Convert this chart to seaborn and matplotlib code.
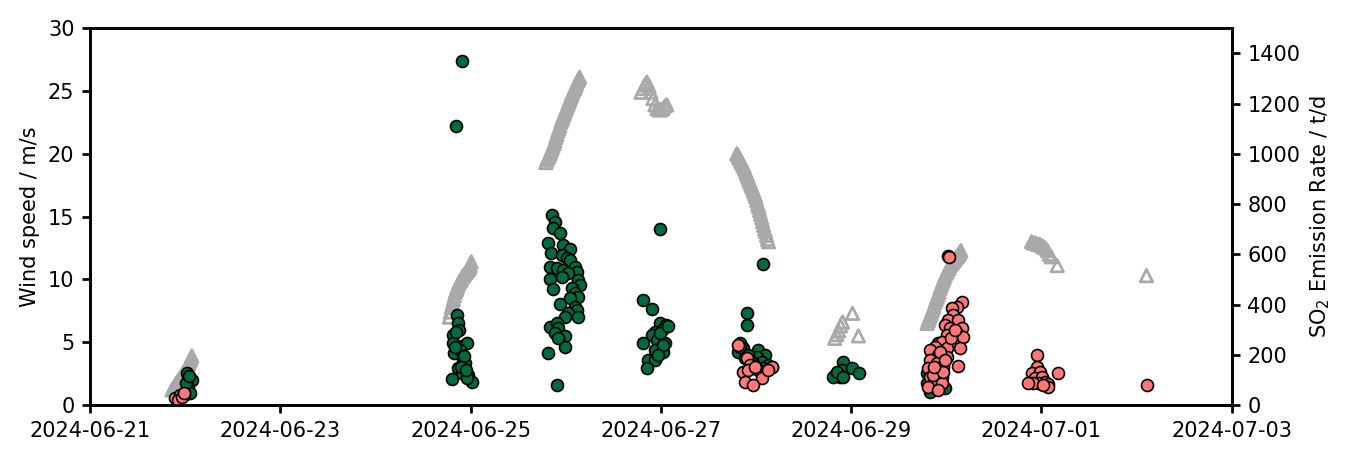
import numpy as np
import pandas as pd
import matplotlib
matplotlib.use("Agg")
import matplotlib.pyplot as plt
import matplotlib.dates as mdates
import seaborn as sns

# ------------------------------------------------------------------
# DATA
# ------------------------------------------------------------------

T0 = pd.Timestamp("2024-06-21")
T_END = pd.Timestamp("2024-07-03")

# wind speed (m/s): one run per evening, regular sampling
wind_start = ["2024-06-21 20:40", "2024-06-24 18:40", "2024-06-25 19:00",
              "2024-06-26 19:00", "2024-06-27 19:10", "2024-06-28 19:50",
              "2024-06-29 19:10", "2024-06-30 21:30", "2024-07-02 02:30"]
wind_step_min = [15, 15, 15, 30, 15, 30, 15, 30, 30]

wind_1 = [1.2, 1.3, 1.4, 1.5, 1.7, 1.8, 1.9, 2.0, 2.1, 2.2, 2.3, 2.5, 2.6,
          2.7, 2.9, 3.0, 3.2, 3.3, 3.5, 3.7, 3.9]
wind_2 = [7.0, 7.4, 7.8, 8.1, 8.4, 8.7, 9.0, 9.2, 9.4, 9.6, 9.8, 9.9, 10.0,
          10.2, 10.3, 10.4, 10.5, 10.6, 10.7, 10.8, 10.9, 11.1, 11.4]
wind_3 = [19.3, 19.5, 19.7, 19.8, 20.0, 20.2, 20.4, 20.6, 20.8, 21.0, 21.3,
          21.5, 21.8, 22.0, 22.2, 22.5, 22.7, 22.9, 23.1, 23.3, 23.5, 23.7,
          23.9, 24.1, 24.3, 24.5, 24.7, 24.9, 25.1, 25.2, 25.4, 25.6, 25.8,
          25.9, 26.1]
wind_4 = [24.9, 25.2, 25.5, 25.7, 25.4, 24.9, 24.4, 23.9, 23.6, 23.5, 23.5,
          23.6, 23.8, 23.9]
wind_5 = [20.0, 19.9, 19.7, 19.6, 19.4, 19.3, 19.1, 19.0, 18.8, 18.6, 18.4,
          18.2, 18.0, 17.8, 17.6, 17.4, 17.2, 17.0, 16.8, 16.6, 16.3, 16.0,
          15.8, 15.5, 15.2, 14.9, 14.6, 14.3, 14.0, 13.8, 13.5, 13.2, 13.0]
wind_6 = [5.3, 5.6, 5.9, 6.3, 6.6, np.nan, np.nan, np.nan, np.nan, 7.3,
          np.nan, np.nan, 5.5]
wind_7 = [6.5, 6.7, 6.9, 7.1, 7.3, 7.5, 7.7, 7.9, 8.2, 8.4, 8.6, 8.8, 9.0,
          9.3, 9.5, 9.7, 9.9, 10.1, 10.3, 10.5, 10.6, 10.8, 10.9, 11.1, 11.2,
          11.3, 11.4, 11.5, 11.6, 11.7, 11.8, 11.9, 12.0, 12.1, 12.3]
wind_8 = [13.0, 12.9, 12.9, 12.8, 12.8, 12.7, 12.6, 12.5, 12.3, 12.0, 11.8,
          np.nan, np.nan, 11.1]
wind_9 = [10.3]

# SO2 emission rate (t/d), days after 2024-06-21 00:00
green_day = [1.019, 1.072, 1.030, 1.051, 1.009, 0.988, 1.040,
             3.909, 3.846, 3.856, 3.867, 3.814, 3.877, 3.814, 3.909, 3.961,
             3.825, 3.919, 3.940, 3.867, 3.909, 3.972, 3.804, 4.014, 3.961,
             3.846, 3.888, 3.930, 3.898, 3.835, 3.950,
             4.854, 4.886, 4.865, 4.939, 4.812, 4.970, 5.044, 4.844, 4.960,
             5.012, 5.044, 4.834, 4.907, 4.970, 5.096, 5.117, 5.023, 4.834,
             4.960, 5.128, 5.149, 4.865, 5.065, 5.096, 5.128, 5.044, 4.939,
             5.096, 5.117, 5.023, 5.128, 4.991, 4.834, 4.907, 4.917, 4.886,
             4.991, 4.917, 4.991, 4.812, 4.907,
             5.989, 5.811, 5.905, 5.989, 6.052, 5.937, 6.010, 5.905, 5.811,
             5.958, 6.042, 5.937, 6.021, 5.863, 5.937, 5.853, 6.021, 5.989,
             6.073, 5.968,
             7.072, 6.903, 6.903, 6.830, 6.861, 6.809, 7.019, 7.093, 7.008,
             7.061, 6.966, 7.124, 6.882, 7.072, 7.019, 6.935, 7.166, 6.830,
             6.914,
             7.828, 7.881, 7.912, 7.902, 8.007, 8.080, 7.807, 7.849, 7.912,
             8.795, 8.795, 8.826, 8.910, 8.963, 8.879, 9.015, 8.984, 8.931,
             8.847]
green_so2 = [127, 100, 72, 48, 88, 40, 115,
             1370, 1111, 358, 327, 279, 300, 247, 235, 247,
             207, 179, 167, 147, 127, 119, 104, 92, 108,
             290, 220, 195, 150, 230, 140,
             757, 729, 705, 685, 645, 637, 621, 605, 597,
             586, 578, 550, 546, 538, 550, 530, 526, 502,
             510, 498, 478, 462, 466, 446, 430, 426, 402,
             390, 378, 366, 350, 350, 311, 327, 307, 287,
             275, 267, 231, 207, 80,
             701, 418, 382, 327, 319, 291, 299, 279, 247,
             259, 247, 219, 211, 179, 179, 147, 239, 287,
             315, 200,
             560, 366, 319, 247, 227, 211, 219, 199, 191,
             171, 167, 159, 187, 147, 139, 179, 151, 230,
             200,
             119, 112, 171, 139, 147, 127, 112, 131, 112,
             127, 88, 52, 247, 231, 171, 592, 68, 100,
             199]

red_day = [0.893, 0.946, 0.925, 0.967, 0.988,
           6.809, 6.903, 6.935, 6.861, 6.914, 6.987, 7.166, 7.061, 6.882,
           6.966, 7.124,
           9.026, 9.163, 9.110, 9.058, 9.068, 9.015, 9.121, 8.984, 9.163,
           9.036, 9.110, 9.005, 9.173, 9.142, 8.952, 9.005, 8.879, 8.826,
           8.910, 9.005, 9.121, 8.826, 8.900, 8.963, 8.805, 8.879, 8.952,
           8.826, 8.900, 8.847, 8.952, 8.858, 8.805, 8.910, 8.963, 9.047,
           9.089, 8.931, 8.984, 8.868,
           9.951, 9.951, 9.898, 9.982, 10.171, 9.877, 9.930, 10.003, 10.035,
           10.066, 9.961, 9.909, 10.066, 10.014, 9.856,
           11.107]
red_so2 = [28, 40, 20, 32, 48,
           239, 187, 159, 131, 139, 151, 151, 108, 92,
           80, 139,
           590, 410, 390, 386, 358, 339, 339, 319, 307,
           307, 287, 279, 271, 227, 251, 227, 231, 219,
           199, 191, 155, 179, 167, 151, 147, 127, 112,
           112, 88, 80, 88, 120, 72, 60, 130, 265,
           300, 210, 180, 150,
           199, 151, 127, 131, 127, 92, 108, 112, 92,
           84, 88, 88, 72, 80, 88,
           80]

# ------------------------------------------------------------------
# BUILD FRAMES
# ------------------------------------------------------------------

wind_runs = [wind_1, wind_2, wind_3, wind_4, wind_5, wind_6, wind_7, wind_8, wind_9]
parts = []
for start, step, vals in zip(wind_start, wind_step_min, wind_runs):
    t = pd.date_range(start, periods=len(vals), freq=f"{step}min")
    parts.append(pd.DataFrame({"time": t, "wind": vals}))
wind_df = pd.concat(parts, ignore_index=True).dropna()

green_df = pd.DataFrame({"time": T0 + pd.to_timedelta(green_day, unit="D"),
                         "so2": green_so2})
red_df = pd.DataFrame({"time": T0 + pd.to_timedelta(red_day, unit="D"),
                       "so2": red_so2})

# ------------------------------------------------------------------
# PLOT
# ------------------------------------------------------------------

plt.rcParams.update({"font.family": ["DejaVu Sans"], "font.size": 10,
                     "axes.linewidth": 1.3,
                     "xtick.major.width": 1.3, "ytick.major.width": 1.3,
                     "xtick.major.size": 4, "ytick.major.size": 4})

fig, ax = plt.subplots(figsize=(1352 / 150, 462 / 150), dpi=150)
fig.subplots_adjust(left=0.0666, right=0.911, bottom=0.1234, top=0.939)

sns.scatterplot(data=wind_df, x="time", y="wind", ax=ax, marker="^", s=36,
                facecolors="none", edgecolor="#a9a9a9", linewidth=1.3,
                legend=False)

ax2 = ax.twinx()
sns.scatterplot(data=green_df, x="time", y="so2", ax=ax2, color="#006b3c",
                edgecolor="black", s=33, linewidth=0.8, legend=False)
sns.scatterplot(data=red_df, x="time", y="so2", ax=ax2, color="#ff7878",
                edgecolor="black", s=33, linewidth=0.8, legend=False)

ax.set_xlim(T0, T_END)
ax.set_xticks(pd.date_range(T0, T_END, freq="2D"))
ax.xaxis.set_major_formatter(mdates.DateFormatter("%Y-%m-%d"))
ax.set_ylim(0, 30)
ax.set_yticks(range(0, 31, 5))
ax.set_xlabel("")
ax.set_ylabel("Wind speed / m/s")

ax2.set_ylim(0, 1500)
ax2.set_yticks(range(0, 1401, 200))
ax2.set_xlabel("")
ax2.set_ylabel("SO$_2$ Emission Rate / t/d")

fig.savefig("out.png", dpi=150)
